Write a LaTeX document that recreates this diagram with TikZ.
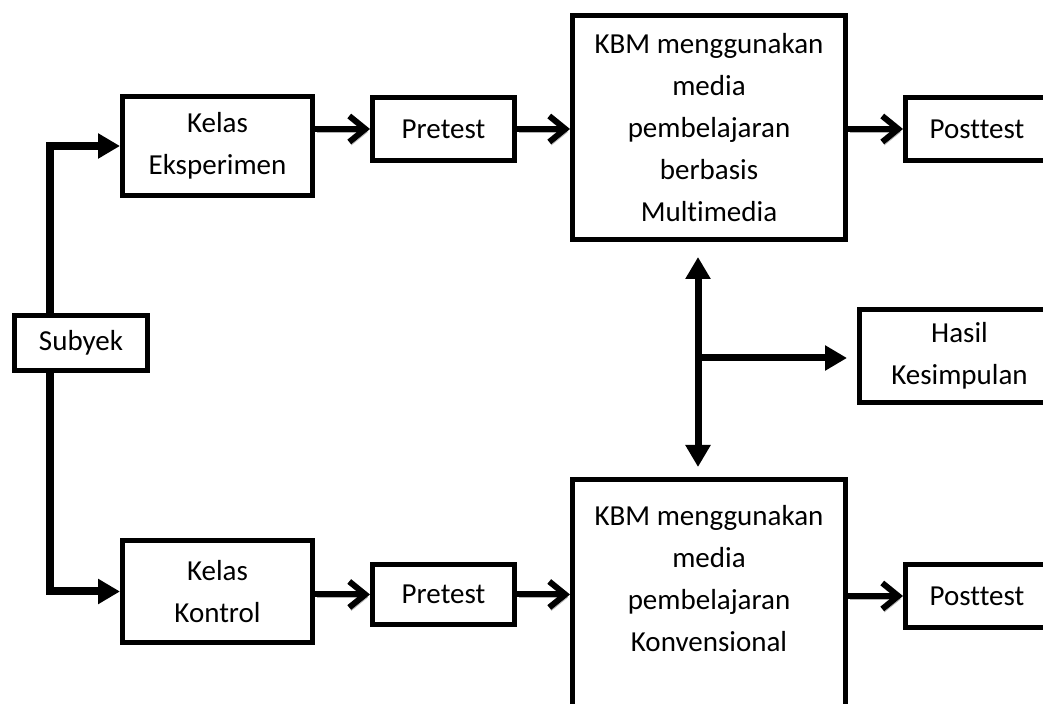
\documentclass[tikz,border=0pt]{standalone}
\usepackage{fontspec}
\setmainfont[Ligatures={NoCommon}]{Carlito}
\usetikzlibrary{arrows.meta}

\tikzset{
  box/.style={draw, line width=2.5pt, align=center, inner sep=2pt,
    font=\fontsize{14.5}{20.9}\selectfont},
  thickarrow/.style={line width=4pt, -{Triangle[length=11pt,width=12pt]}},
  dblarrow/.style={line width=3.5pt,
    {Triangle[length=11pt,width=12pt]}-{Triangle[length=11pt,width=12pt]}},
  hubarrow/.style={line width=3.5pt, -{Triangle[length=11pt,width=12pt]}},
  flowarrow/.style={line width=3pt, -{Straight Barb[length=8pt,width=13pt]},
    preaction={draw=gray!60, transform canvas={shift={(1pt,-1.5pt)}}}}
}

\begin{document}
\begin{tikzpicture}[x=0.5pt,y=-0.5pt]
\useasboundingbox (0,0) rectangle (1043,704);
\clip (0,0) rectangle (1043,704);
% boxes
\node[box, minimum width=66.5pt, minimum height=27.5pt] (sub) at (81,343) {Subyek};
\node[box, minimum width=95pt, minimum height=49.5pt] (eks) at (217.5,146) {Kelas\\Eksperimen};
\node[box, minimum width=95pt, minimum height=51pt] (kon) at (217.5,591.5) {Kelas\\Kontrol};
\node[box, minimum width=71pt, minimum height=31.5pt] (pre1) at (443.5,129) {Pretest};
\node[box, minimum width=71pt, minimum height=30pt] (pre2) at (443.5,594.5) {Pretest};
\node[box, minimum width=136.5pt, minimum height=112pt] (kbm1) at (709,127.5)
  {KBM menggunakan\\media\\pembelajaran\\berbasis\\Multimedia};
\node[box, minimum width=136.5pt, minimum height=120pt] (kbm2) at (709,599.5)
  {KBM menggunakan\\media\\pembelajaran\\Konvensional\\\mbox{}};
\node[box, minimum width=71.5pt, minimum height=31.5pt] (post1) at (977,129) {Posttest};
\node[box, minimum width=71.5pt, minimum height=31.5pt] (post2) at (977,596) {Posttest};
\node[box, minimum width=100pt, minimum height=46.5pt] (hasil) at (959.5,356) {Hasil\\Kesimpulan};
\coordinate (hub) at (698,358);

% subyek split
\draw[thickarrow] ([xshift=19pt]sub.north west) |- (eks.west);
\draw[thickarrow] ([xshift=19pt]sub.south west) |- (kon.west);

% flow rows
\draw[flowarrow] (eks.east |- pre1) -- (pre1.west);
\draw[flowarrow] (pre1.east) -- (pre1.east -| kbm1.west);
\draw[flowarrow] (kbm1.east |- post1) -- (post1.west);
\draw[flowarrow] (kon.east |- pre2) -- (pre2.west);
\draw[flowarrow] (pre2.east) -- (pre2.east -| kbm2.west);
\draw[flowarrow] (kbm2.east |- post2) -- (post2.west);

% comparison
\draw[dblarrow] ([yshift=-7.5pt]kbm1.south -| hub) -- ([yshift=5pt]kbm2.north -| hub);
\draw[hubarrow] (hub) -- ([xshift=-5pt]hasil.west |- hub);
\end{tikzpicture}
\end{document}
